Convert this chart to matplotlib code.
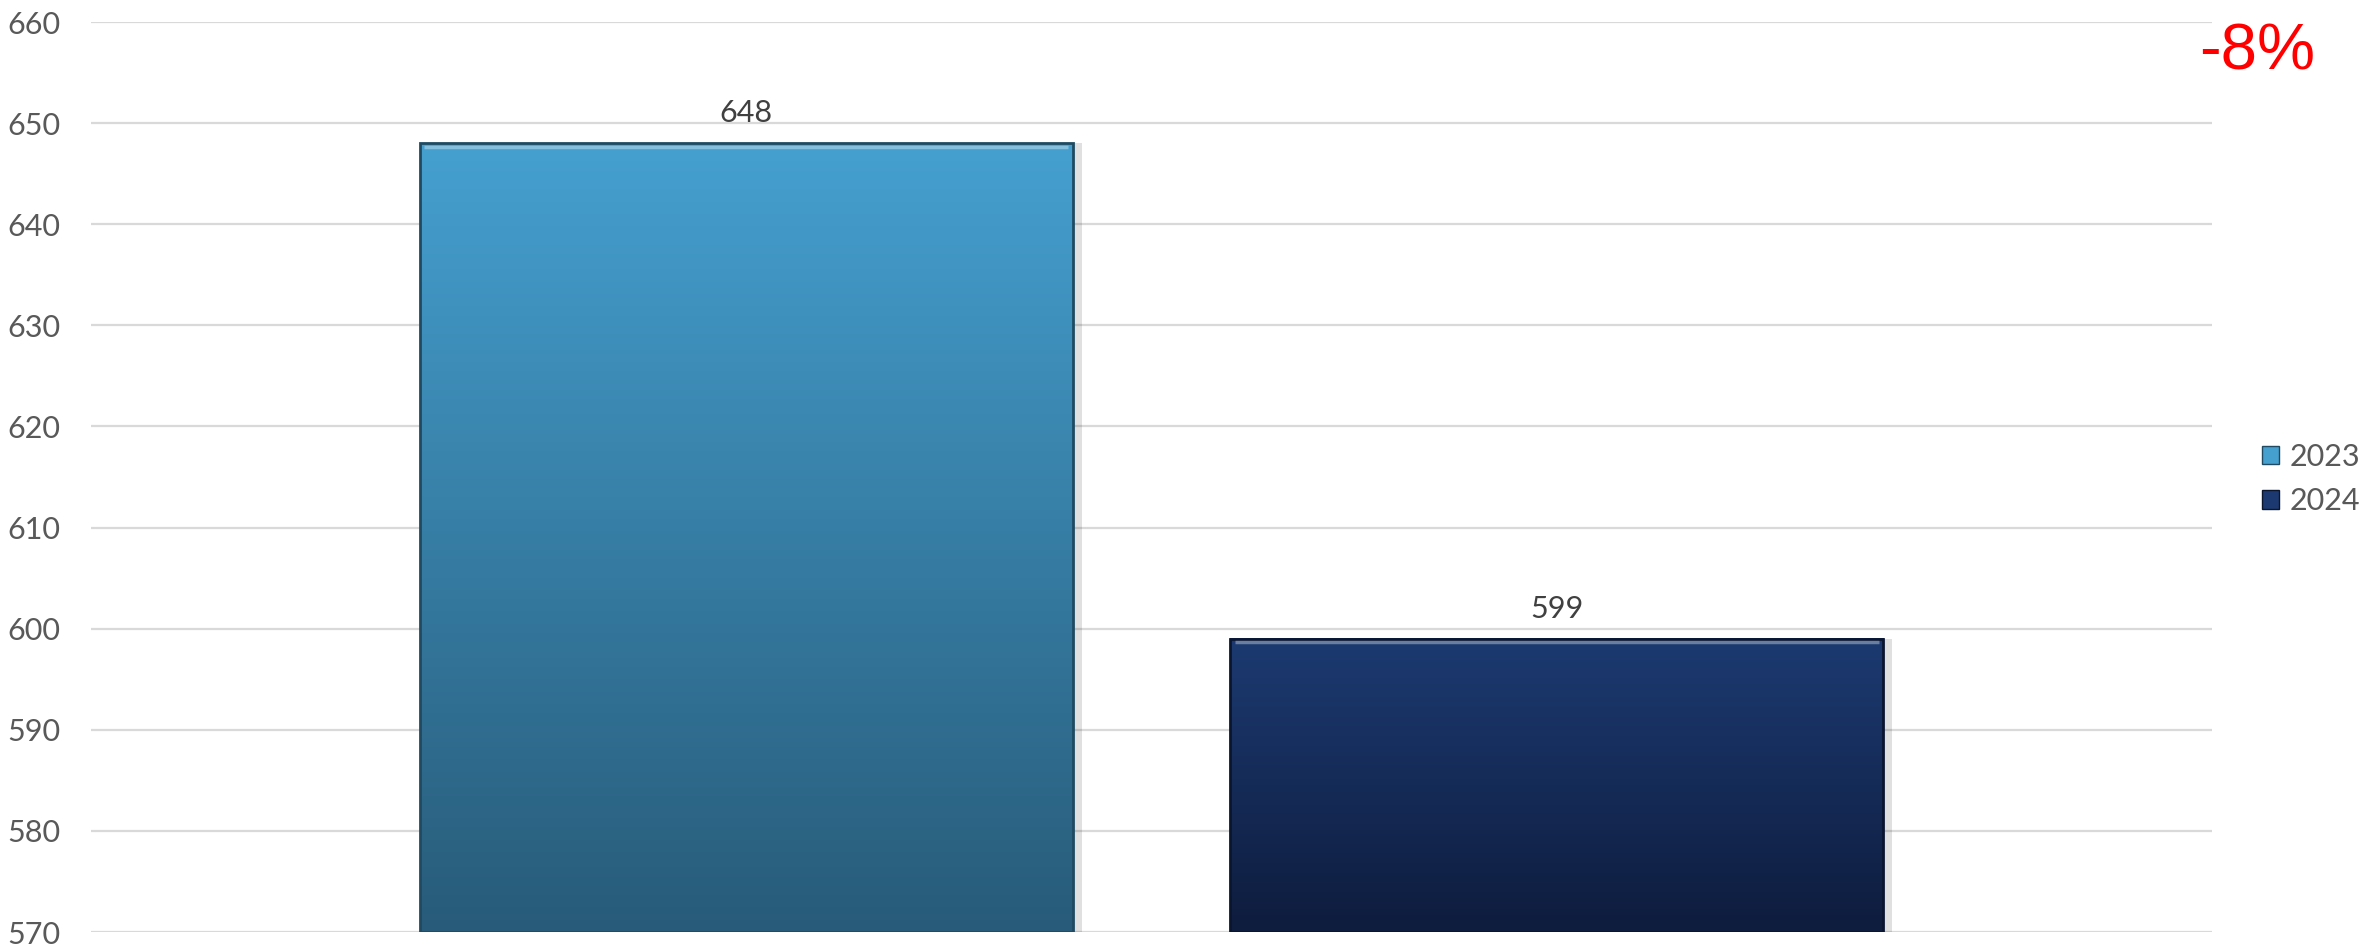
import numpy as np
import matplotlib
matplotlib.use('Agg')
from matplotlib import pyplot as plt
from matplotlib.colors import LinearSegmentedColormap
from matplotlib.patches import Patch

# data
series = ['2023', '2024']
values = [648, 599]
change_label = '-8%'
y_ticks = [570, 580, 590, 600, 610, 620, 630, 640, 650, 660]

# gradient colours (top, bottom) for each bar
grad_colours = [('#45a0d0', '#285b79'), ('#1c3a71', '#0e1c3d')]
edge_colours = ['#1f4a62', '#0a1530']

plt.rcParams['font.family'] = ['Lato', 'DejaVu Sans']

fig = plt.figure(figsize=(23.69, 9.47), dpi=100)
ax = fig.add_axes([91 / 2369, (947 - 932) / 947, (2212 - 91) / 2369, (932 - 22) / 947])

x = np.arange(len(series))
bar_width = 0.807

bars = ax.bar(x, values, width=bar_width, color='none', edgecolor='none', zorder=3)

y_min, y_max = y_ticks[0], y_ticks[-1]
for rect, (c_top, c_bot), ec, label in zip(bars, grad_colours, edge_colours, series):
    x0 = rect.get_x()
    x1 = x0 + rect.get_width()
    top = rect.get_height()
    cmap = LinearSegmentedColormap.from_list('g' + label, [c_bot, c_top])
    grad = np.linspace(0, 1, 256).reshape(-1, 1)
    # shadow behind the bar
    ax.bar(rect.get_x() + rect.get_width() / 2 + 0.006, top - y_min, bottom=y_min,
           width=rect.get_width() + 0.01, color='#000000', alpha=0.12, zorder=2)
    ax.imshow(grad, cmap=cmap, origin='lower', aspect='auto',
              extent=[x0, x1, y_min, top], zorder=3)
    # bevel edge
    ax.bar(rect.get_x() + rect.get_width() / 2, top - y_min, bottom=y_min,
           width=rect.get_width(), color='none', edgecolor=ec, linewidth=2.0, zorder=4)
    # light highlight along the top edge
    ax.plot([x0 + 0.006, x1 - 0.006], [top - 0.35, top - 0.35], color='white',
            alpha=0.35, linewidth=2.5, zorder=5, solid_capstyle='butt')

for xi, v in zip(x, values):
    ax.text(xi, v + 1.6, str(v), ha='center', va='bottom', fontsize=22, color='#404040')

ax.set_xlim(-0.809, 1.809)
ax.set_ylim(y_min, y_max)
ax.set_yticks(y_ticks)
ax.set_yticklabels([str(t) for t in y_ticks], fontsize=22, color='#595959')
ax.set_xticks([])
ax.tick_params(axis='y', length=0, pad=22)
ax.grid(axis='y', color='#d9d9d9', linewidth=1.6, zorder=0)
ax.set_axisbelow(True)
for s in ax.spines.values():
    s.set_visible(False)

handles = [Patch(facecolor=c[0], edgecolor=ec, linewidth=1.0) for c, ec in zip(grad_colours, edge_colours)]
fig.legend(handles, series, loc='center left', bbox_to_anchor=(2262 / 2369, 1 - 479 / 947),
           frameon=False, fontsize=22, labelcolor='#595959', handlelength=0.55, handleheight=0.55,
           handletextpad=0.35, labelspacing=0.55, borderpad=0, borderaxespad=0)

fig.text(2257 / 2369, 1 - 53 / 947, change_label, ha='center', va='center',
         fontsize=47, color='#ff0000', family=['Liberation Sans', 'DejaVu Sans'])

fig.savefig('out.png', dpi=100)
